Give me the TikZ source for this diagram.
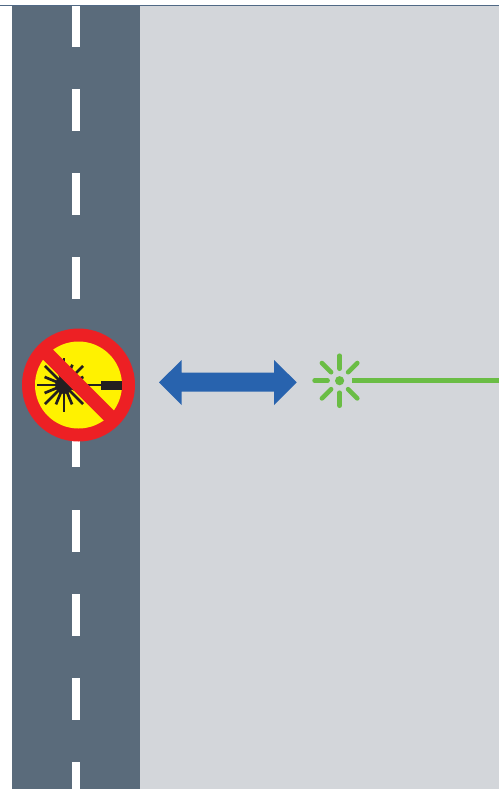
\documentclass[tikz,border=0pt]{standalone}
\definecolor{roadc}{HTML}{5A6B7B}
\definecolor{groundc}{HTML}{D3D6DA}
\definecolor{bluec}{HTML}{2863AE}
\definecolor{greenc}{HTML}{6ABD45}
\definecolor{redc}{HTML}{ED2024}
\definecolor{yellowc}{HTML}{FFF200}
\definecolor{blackc}{HTML}{231F20}
\tikzset{
  ray/.style={blackc,line width=2.7pt},
  spoke/.style={greenc,line width=4.6pt,line cap=round},
}
\begin{document}
\begin{tikzpicture}[x=1pt,y=-1pt]
\useasboundingbox (0,0) rectangle (499,789);
\fill[white] (0,0) rectangle (499,789);
% ground and road
\fill[groundc] (140,6) rectangle (499,789);
\fill[roadc] (12,6) rectangle (140,789);
\draw[roadc!80!bluec,line width=0.8pt] (0,5.5) -- (499,5.5);
% lane dashes
\foreach \a/\b in {6/47,89/131,173/215,257/299,425/467,510/552,594/636,678/720,762/789}
  \fill[white] (72,\a) rectangle (80,\b);
% prohibition sign
\fill[redc] (78.5,385) circle (56.5);
\fill[yellowc] (78.5,385) circle (43.5);
% laser (angles measured clockwise on the page)
\fill[blackc] (64,385) circle (9);
\foreach \ang/\r in {22.5/21,45/27,67.5/21,90/27,112.5/21,135/27,157.5/21,180/27,202.5/21,225/27,247.5/21,270/27,292.5/22,315/27,337.5/21}
  \draw[ray] (64,385) -- ++(\ang:\r);
\draw[blackc,line width=2.2pt] (64,385) -- (101,385);
\fill[blackc] (100.7,381) rectangle (121.7,389.5);
% slash
\begin{scope}
  \clip (78.5,385) circle (50);
  \fill[redc] (33.5,330) -- (23.5,340) -- (123.5,440) -- (133.5,430) -- cycle;
\end{scope}
% double arrow
\fill[bluec] (159,382.3) -- (181.7,360) -- (181.7,372.7) -- (274,372.7) -- (274,360)
  -- (296.7,382.3) -- (274,405) -- (274,391.7) -- (181.7,391.7) -- (181.7,405) -- cycle;
% green beacon
\fill[greenc] (339.6,380.7) circle (4.6);
\foreach \ang in {45,90,...,315}
  \draw[spoke] (339.6,380.7) ++(\ang:12) -- ++(\ang:13);
\draw[greenc,line width=5pt] (352,380.7) -- (499,380.7);
\end{tikzpicture}
\end{document}
